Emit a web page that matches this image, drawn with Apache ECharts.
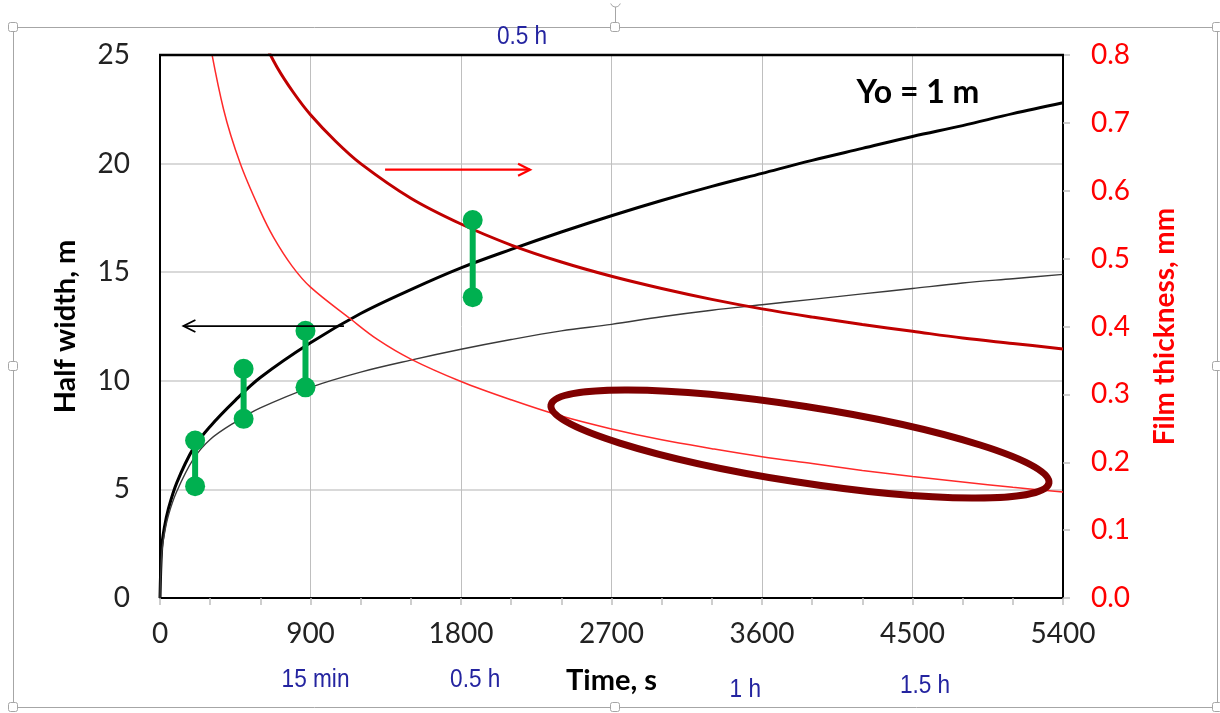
<!DOCTYPE html>
<html><head><meta charset="utf-8">
<script src="https://cdn.jsdelivr.net/npm/echarts@6/dist/echarts.min.js"></script>
<style>html,body{margin:0;padding:0;background:#fff}#c{width:1220px;height:713px}</style>
</head><body><div id="c"></div>
<script>
// ---- data ----
const time = [0,10,25,50,100,200,300,450,600,900,1200,1500,1800,2100,2400,2700,3000,3300,3600,3900,4200,4500,4800,5100,5400];
const halfWidthUpper = [0,2.3,3.2,4.1,5.3,6.9,7.9,9.1,10.15,11.75,13.1,14.2,15.2,16.05,16.85,17.6,18.3,18.95,19.55,20.15,20.7,21.25,21.75,22.3,22.8];
const halfWidthLower = [0,2.0,2.9,3.8,4.9,6.4,7.3,8.1,8.75,9.7,10.4,10.95,11.45,11.9,12.3,12.6,12.95,13.25,13.5,13.75,14.0,14.25,14.5,14.7,14.9];
const filmThickTime = [600,700,800,900,1050,1200,1500,1800,2100,2400,2700,3000,3300,3600,3900,4200,4500,4800,5100,5400];
const filmThick = [0.83,0.782,0.744,0.712,0.673,0.640,0.589,0.551,0.520,0.495,0.474,0.456,0.440,0.426,0.414,0.403,0.393,0.383,0.375,0.367];
const filmThinTime = [280,380,480,600,680,790,900,1140,1300,1500,1800,2100,2400,2700,3000,3300,3600,3900,4200,4500,4800,5100,5400];
const filmThin = [0.842,0.72,0.64,0.570,0.531,0.489,0.458,0.411,0.381,0.352,0.319,0.292,0.268,0.249,0.233,0.220,0.208,0.198,0.188,0.179,0.171,0.163,0.156];
const barTime = [210,500,870,1870];
const barLow = [5.15,8.25,9.7,13.85];
const barHigh = [7.25,10.55,12.3,17.4];
const xTicks = [0,900,1800,2700,3600,4500,5400];
const yLeftTicks = [0,5,10,15,20,25];
const yRightTicks = [0,0.1,0.2,0.3,0.4,0.5,0.6,0.7,0.8];
const timeNotes = [
  {text:'15 min', t:930, y:680},
  {text:'0.5 h', t:1885, y:680},
  {text:'1 h', t:3500, y:690},
  {text:'1.5 h', t:4575, y:686},
  {text:'0.5 h', t:2165, y:37}
];

const FONT = 'Lato, "Open Sans", sans-serif';
const chart = echarts.init(document.getElementById('c'), null, {renderer:'canvas'});

const lineBase = {type:'line', symbol:'none', smooth:0.35, clip:true, silent:true, z:3};
const series = [
  Object.assign({}, lineBase, {name:'upper', yAxisIndex:0, data: time.map((t,i)=>[t, halfWidthUpper[i]]),
   lineStyle:{color:'#000', width:3}}),
  Object.assign({}, lineBase, {name:'lower', yAxisIndex:0, data: time.map((t,i)=>[t, halfWidthLower[i]]),
   lineStyle:{color:'#3a3a3a', width:1.4}}),
  Object.assign({}, lineBase, {name:'film thick', yAxisIndex:1, data: filmThickTime.map((t,i)=>[t, filmThick[i]]),
   lineStyle:{color:'#C00000', width:3}}),
  Object.assign({}, lineBase, {name:'film thin', yAxisIndex:1, data: filmThinTime.map((t,i)=>[t, filmThin[i]]),
   lineStyle:{color:'#FF2A2A', width:1.5}})
];
barTime.forEach((t,i)=>{
  series.push({type:'line', yAxisIndex:0, data:[[t, barLow[i]],[t, barHigh[i]]],
    symbol:'circle', symbolSize:20, showSymbol:true, lineStyle:{color:'#00B050', width:6},
    itemStyle:{color:'#00B050'}, z:6, silent:true, animation:false});
});

const axisFont = {fontFamily:FONT, fontSize:28};
chart.setOption({
  animation:false,
  grid:{left:160, right:157, top:55, bottom:115},
  xAxis:{type:'value', min:xTicks[0], max:xTicks[xTicks.length-1], interval:xTicks[1]-xTicks[0],
    name:'Time, s', nameLocation:'middle', nameGap:68,
    nameTextStyle:{fontFamily:FONT, fontSize:29, fontWeight:'bold', color:'#000'},
    axisLine:{lineStyle:{color:'#000', width:2}},
    axisTick:{show:true, length:7, lineStyle:{color:'#BFBFBF', width:1.5}},
    minorTick:{show:true, splitNumber:3, length:7, lineStyle:{color:'#BFBFBF', width:1.5}},
    axisLabel:Object.assign({color:'#222', margin:22, formatter:v=>String(v)}, axisFont),
    splitLine:{show:true, lineStyle:{color:'#BFBFBF', width:1}}},
  yAxis:[
    {type:'value', min:yLeftTicks[0], max:yLeftTicks[yLeftTicks.length-1], interval:yLeftTicks[1]-yLeftTicks[0],
     name:'Half width, m', nameLocation:'middle', nameGap:80,
     nameTextStyle:{fontFamily:FONT, fontSize:29, fontWeight:'bold', color:'#000'},
     axisLine:{show:true, lineStyle:{color:'#000', width:2}},
     axisTick:{show:false}, minorTick:{show:false},
     axisLabel:Object.assign({color:'#222', margin:30}, axisFont),
     splitLine:{show:true, lineStyle:{color:'#D9D9D9', width:2}}},
    {type:'value', position:'right', min:yRightTicks[0], max:yRightTicks[yRightTicks.length-1], interval:0.1,
     name:'Film thickness, mm', nameLocation:'middle', nameGap:88,
     nameTextStyle:{fontFamily:FONT, fontSize:28, fontWeight:'bold', color:'#FF0000'},
     axisLine:{show:true, lineStyle:{color:'#000', width:2}},
     axisTick:{show:true, length:7, lineStyle:{color:'#BFBFBF', width:1.5}}, minorTick:{show:false},
     axisLabel:Object.assign({color:'#FF0000', margin:28, formatter:v=>v.toFixed(1)}, axisFont),
     splitLine:{show:false}}
  ],
  series
});

// ---- annotations anchored to data coordinates ----
const pxL = (t,v)=>chart.convertToPixel({xAxisIndex:0, yAxisIndex:0}, [t,v]);
const pxR = (t,v)=>chart.convertToPixel({xAxisIndex:0, yAxisIndex:1}, [t,v]);
const g = [];

// plot-area top border
{
  const a = pxL(xTicks[0], yLeftTicks[yLeftTicks.length-1]), b = pxL(xTicks[xTicks.length-1], yLeftTicks[yLeftTicks.length-1]);
  g.push({type:'line', shape:{x1:a[0]-1, y1:a[1], x2:b[0]+1, y2:b[1]}, style:{stroke:'#000', lineWidth:2.5}, z:7});
}

// outer chart frame with selection handles
g.push({type:'rect', shape:{x:13.5, y:27.5, width:1204, height:680}, style:{fill:'none', stroke:'#A6A6A6', lineWidth:1}, z:1});
[[13,27],[615,27],[1217,27],[13,366],[1217,366],[13,707],[615,707],[1217,707]].forEach(p=>{
  g.push({type:'rect', shape:{x:p[0]-4.5, y:p[1]-4.5, width:9, height:9, r:2}, style:{fill:'#fff', stroke:'#A6A6A6', lineWidth:1}, z:20});
});
g.push({type:'line', shape:{x1:615.5, y1:7, x2:615.5, y2:22}, style:{stroke:'#A6A6A6', lineWidth:1}, z:20});
g.push({type:'arc', shape:{cx:615.5, cy:2, r:5, startAngle:0.3, endAngle:Math.PI-0.3}, style:{fill:'none', stroke:'#A6A6A6', lineWidth:1}, z:20});

// "Yo = 1 m"
g.push({type:'text', x:918, y:93, style:{text:'Yo = 1 m', font:'bold 32px '+FONT, fill:'#000', textAlign:'center', textVerticalAlign:'middle'}, z:10});

// blue time notes
timeNotes.forEach(n=>{
  const x = pxL(n.t, 0)[0];
  g.push({type:'text', x:x, y:n.y, scaleX:0.87, style:{x:0, y:0, text:n.text, font:'26px "Liberation Sans", Arial, sans-serif', fill:'#2424A0', textAlign:'center', textVerticalAlign:'middle'}, z:10});
});

// black arrow (points to left axis)
{
  const a = pxL(1100, 12.52), b = pxL(140, 12.52);
  g.push({type:'polyline', shape:{points:[a,b]}, style:{stroke:'#000', lineWidth:1.8, fill:null}, z:8});
  g.push({type:'polyline', shape:{points:[[b[0]+12,b[1]-6],[b[0],b[1]],[b[0]+12,b[1]+6]]}, style:{stroke:'#000', lineWidth:1.8, fill:null}, z:8});
}
// red arrow (points to right axis)
{
  const a = pxR(1346, 0.631), b = pxR(2213, 0.631);
  g.push({type:'polyline', shape:{points:[a,b]}, style:{stroke:'#FF0000', lineWidth:2.2, fill:null}, z:8});
  g.push({type:'polyline', shape:{points:[[b[0]-12,b[1]-6],[b[0],b[1]],[b[0]-12,b[1]+6]]}, style:{stroke:'#FF0000', lineWidth:2.2, fill:null}, z:8});
}
// dark-red ellipse highlighting the thin film curve
{
  const c = pxL(3827, 7.09);
  g.push({type:'ellipse', x:c[0], y:c[1], rotation:-0.155, shape:{cx:0, cy:0, rx:252, ry:38},
    style:{fill:'none', stroke:'#7F0000', lineWidth:7}, z:9});
}
chart.setOption({graphic:g});
</script></body></html>
